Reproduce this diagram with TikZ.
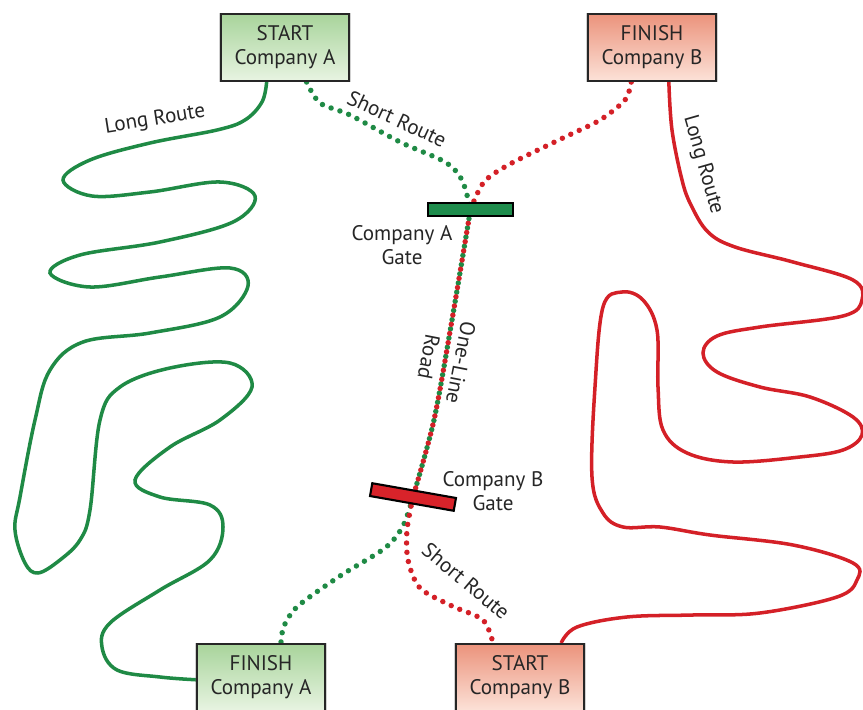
\documentclass[tikz,border=0pt]{standalone}
\usepackage{fontspec}
\setmainfont{PT Sans}
\usetikzlibrary{positioning, shadows, backgrounds}
\definecolor{routeA}{HTML}{1F8A45}
\definecolor{routeB}{HTML}{D42027}
\definecolor{gateA}{HTML}{1E8C4C}
\definecolor{gateB}{HTML}{D8232A}
\definecolor{boxAtop}{HTML}{A8D49B}
\definecolor{boxAbot}{HTML}{E8F4E2}
\definecolor{boxBtop}{HTML}{EB937C}
\definecolor{boxBbot}{HTML}{FCE2D8}
\definecolor{ink}{HTML}{262626}
\tikzset{
        company/.style={draw=ink, line width=1.2pt, minimum width=2.56cm, minimum height=1.34cm,
          align=center, text=ink, font=\fontsize{12}{13.6}\selectfont,
          general shadow={fill=black!60, opacity=0.3, shadow scale=1.03}}, % the four end boxes
        companyA/.style={company, top color=boxAtop, bottom color=boxAbot},
        companyB/.style={company, top color=boxBtop, bottom color=boxBbot},
        gatebar/.style={draw=black, line width=1.2pt, minimum width=1.7cm, minimum height=0.26cm, inner sep=0pt},
        routetag/.style={text=ink, font=\fontsize{12}{13.6}\selectfont, align=center, inner sep=1pt},
        longroute/.style={line width=2pt, smooth, tension=0.6}, % solid winding routes
        shortroute/.style={line width=3.1pt, line cap=round, dash pattern=on 0pt off 5.3pt}, % dotted routes
    }

\begin{document}
\begin{tikzpicture}[x=0.02cm, y=-0.02cm]
    \useasboundingbox (0,0) rectangle (863,710);
    % end boxes
    \node[companyA] (startA)  at (285,47.5)  {START\\Company A};
    \node[companyB] (finishB) at (652,47.5)  {FINISH\\Company B};
    \node[companyA] (finishA) at (261,677.5) {FINISH\\Company A};
    \node[companyB] (startB)  at (520,677.5) {START\\Company B};
    % gates
    \node[gatebar, fill=gateA]            (gateA) at (470.5,209.5) {};
    \node[gatebar, fill=gateB, rotate=-10] (gateB) at (413,497) {};
    % labels
    \node[routetag] (gateAtext) at (402,245) {Company A\\Gate};
    \node[routetag] (gateBtext) at (493,491) {Company B\\Gate};
    \node[routetag, rotate=-101] (roadtext) at (445,360) {One-Line\\[5pt]Road};
    \node[routetag, rotate=9]   (longAtext)  at (155,120) {Long Route};
    \node[routetag, rotate=-74] (longBtext)  at (703,165) {Long Route};
    \node[routetag, rotate=-25] (shortAtext) at (397,119) {Short Route};
    \node[routetag, rotate=-40] (shortBtext) at (466,581) {Short Route};
    \begin{scope}[on background layer]
    % short routes
    \draw[shortroute, routeA] plot[smooth] coordinates {(startA.-58) (320,103) (350,115) (400,142) (445,162) (462,180) (gateA.center)};
    \draw[shortroute, routeB] plot[smooth] coordinates {(finishB.-121) (625,100) (600,120) (565,137) (510,164) (484,182) (gateA.center)};
    \draw[shortroute, routeA] plot[smooth] coordinates {(gateB.center) (403,526) (385,548) (340,576) (298,606) (284,626) (finishA.60.4)};
    \draw[shortroute, routeB] plot[smooth] coordinates {(gateB.center) (407,530) (408,560) (420,588) (452,606) (483,620) (startB.128.9)};
    % one-line road
    \draw[shortroute, routeA] plot[smooth] coordinates {(gateA.center) (452,320) (434,420) (gateB.center)};
    \draw[shortroute, routeB, dash phase=2.65pt] plot[smooth] coordinates {(gateA.center) (452,320) (434,420) (gateB.center)};
    % long routes
    \draw[longroute, routeA] plot coordinates {(startA.-118) (262,102) (245,120) (217,130) (150,143) (90,160) (63,180)
      (92,196) (150,192) (220,182) (255,196) (233,222) (160,242) (80,255) (50,273) (90,287) (160,277) (230,268)
      (248,286) (220,317) (150,333) (83,342) (50,370) (35,420) (20,497) (15,530) (25,563) (38,573) (60,560)
      (80,540) (90,510) (100,420) (120,387) (170,368) (230,363) (252,387) (220,420) (170,447) (135,480)
      (160,497) (210,505) (223,527) (210,560) (160,590) (110,623) (102,647) (117,670) (160,677) (finishA.182)};
    \draw[longroute, routeB] plot coordinates {(finishB.-64.5) (672,130) (682,180) (691,205) (708,232) (735,247)
      (793,262) (853,280) (862,300) (843,316) (760,327) (717,336) (703,353) (717,372) (760,387) (810,397)
      (853,417) (862,435) (843,450) (800,457) (733,462) (687,453) (663,430) (658,387) (657,330) (643,300)
      (622,292) (603,307) (595,387) (592,477) (603,513) (623,527) (660,527) (710,535) (793,545) (853,563)
      (857,580) (837,597) (760,613) (693,615) (627,617) (577,627) (startB.40)};
    \end{scope}
\end{tikzpicture}
\end{document}
